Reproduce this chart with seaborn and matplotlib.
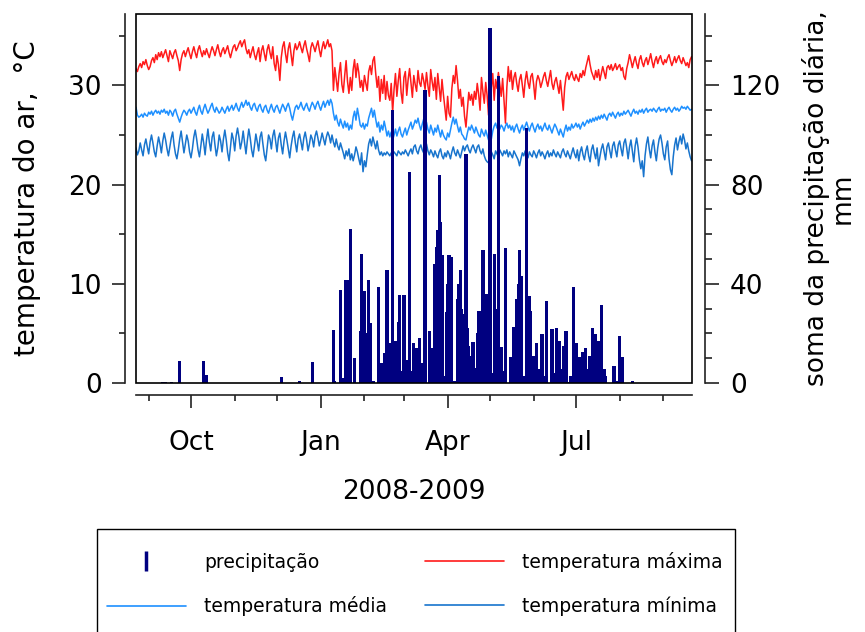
import numpy as np
import pandas as pd
import matplotlib
matplotlib.use("Agg")
import matplotlib.pyplot as plt
import matplotlib.dates as mdates
from matplotlib.lines import Line2D
from matplotlib.patches import Rectangle
import seaborn as sns

# daily series start on 2008-08-23
start_date = "2008-08-23"

# temperatura máxima (°C), one value per day
t_max = [
    31.7, 31.4, 31.9, 32.2, 31.8, 32.4, 32.1, 32.6, 32.0, 31.6, 31.9, 32.5, 32.8, 32.3, 33.1, 32.6, 33.3, 32.9, 33.4, 32.8,
    33.2, 33.6, 33.0, 32.4, 33.5, 33.1, 32.7, 33.3, 33.6, 33.0, 32.5, 31.5, 32.6, 33.2, 33.5, 32.9, 33.4, 33.8, 33.2, 32.7,
    33.4, 33.9, 33.3, 32.8, 33.6, 34.0, 33.4, 32.9, 33.5, 33.1, 33.7, 33.2, 32.8, 33.4, 33.9, 33.5, 33.0, 33.6, 34.1, 33.4,
    32.9, 33.5, 33.8, 33.2, 33.6, 34.0, 33.3, 32.8, 33.4, 33.9, 34.1, 33.5, 33.8, 34.2, 34.5, 33.9, 34.3, 34.6, 33.7, 33.2,
    33.6, 32.8, 33.4, 33.9, 33.1, 32.6, 33.3, 33.8, 32.4, 33.5, 34.0, 33.2, 32.5, 33.6, 34.1, 33.3, 32.7, 33.9, 32.2, 31.5,
    33.0, 32.1, 30.5, 32.8, 33.9, 34.4, 33.2, 32.3, 33.7, 34.3, 33.1, 32.0, 33.5, 34.2, 33.6, 33.9, 34.4, 33.8, 33.3, 34.0,
    34.5, 33.7, 33.1, 32.4, 33.8, 34.3, 33.9, 33.4, 34.0, 34.5, 33.6, 32.9, 33.8, 34.4, 33.7, 34.1, 34.6, 33.9, 34.2, 33.5,
    29.5, 31.8, 30.6, 29.4, 31.2, 32.3, 30.1, 29.3, 31.0, 32.5, 30.4, 29.2, 30.8, 29.5, 31.6, 32.6, 30.8, 32.2, 31.3, 29.8,
    30.5, 29.4, 31.0, 30.2, 29.5, 31.4, 32.0, 31.1, 32.5, 32.9, 31.2, 29.8, 30.9, 28.4, 30.6, 29.2, 31.0, 28.6, 30.4, 29.0,
    28.5, 30.2, 27.3, 29.6, 31.2, 28.9, 30.5, 31.7, 29.3, 28.2, 30.8, 31.4, 29.0, 30.6, 31.7, 30.2, 28.8, 31.0, 30.1, 29.4,
    31.5, 30.3, 29.9, 31.2, 30.5, 29.6, 31.3, 30.0, 28.9, 31.6, 30.4, 29.5, 30.8, 28.6, 31.2, 29.8, 28.4, 30.6, 29.1, 27.8,
    26.5, 28.9, 27.2, 26.8, 29.7, 31.0, 30.2, 32.0, 30.5, 28.7, 29.6, 27.9, 28.8, 26.9, 25.8, 27.6, 29.3, 28.5, 29.1, 28.0,
    29.4, 28.6, 30.2, 29.1, 27.5, 30.8, 29.4, 28.2, 30.3, 29.0, 27.0, 31.9, 29.8, 31.2, 28.5, 30.6, 29.7, 31.3, 30.1, 28.9,
    30.7, 28.4, 26.2, 29.8, 31.9, 30.4, 31.5, 29.6, 30.8, 31.3, 30.2, 29.4, 30.6, 31.1, 30.0, 28.8, 30.5, 31.4, 30.3, 29.7,
    30.9, 31.2, 30.1, 28.6, 30.4, 31.0, 30.6, 29.8, 30.3, 30.9, 31.3, 30.5, 29.9, 30.7, 31.5, 30.2, 29.6, 30.4, 30.8, 30.0,
    29.2, 30.5, 29.0, 27.5, 29.8, 30.9, 31.3, 30.6, 31.0, 31.4, 30.8, 30.5, 31.1, 30.7, 30.4, 31.2, 30.8, 31.5, 31.0, 31.8,
    32.4, 33.0, 32.1, 31.4, 31.0, 30.6, 31.5, 30.8, 31.6, 30.5, 31.2, 31.9, 31.3, 30.7, 31.8, 32.0, 31.6, 32.1, 31.5, 31.8,
    32.2, 31.6, 31.9, 32.1, 31.5, 31.8, 30.9, 30.6, 31.7, 32.3, 33.1, 32.5, 31.8, 32.4, 32.9, 32.2, 31.7, 32.6, 33.0, 32.3,
    31.9, 32.5, 32.8, 32.1, 32.6, 33.2, 32.4, 31.8, 32.5, 32.9, 32.2, 32.7, 33.0, 32.4, 32.1, 32.6, 32.3, 32.8, 33.1, 32.5,
    32.0, 32.4, 32.9, 32.3, 32.7, 33.0, 32.5, 32.2, 32.8, 32.4, 32.0, 32.3, 31.8, 32.6, 32.9,
]

# temperatura média (°C)
t_mean = [
    27.8, 27.0, 26.8, 26.9, 27.1, 26.8, 27.2, 27.0, 26.9, 27.3, 27.1, 27.4, 27.0, 27.3, 27.5, 27.2, 27.4, 27.1, 27.5, 27.3,
    27.6, 27.2, 27.4, 27.0, 27.5, 27.3, 26.9, 27.4, 27.6, 27.1, 26.7, 26.3, 26.8, 27.2, 27.5, 27.3, 27.0, 27.4, 27.6, 27.2,
    27.5, 27.8, 27.3, 27.0, 27.6, 28.0, 27.4, 27.1, 27.7, 28.1, 27.6, 27.2, 27.5, 27.9, 28.2, 27.6, 27.3, 27.8, 27.5, 27.2,
    27.4, 27.8, 27.5, 27.2, 27.6, 27.9, 27.4, 27.7, 28.0, 27.5, 27.8, 28.2, 27.7, 27.4, 27.9, 28.3, 27.8, 28.1, 28.5, 28.0,
    28.3, 27.8, 27.5, 28.0, 28.2, 27.7, 27.4, 27.9, 28.1, 27.6, 27.3, 27.8, 28.0, 27.5, 27.2, 27.7, 28.1, 27.6, 27.3, 27.8,
    28.0, 27.6, 27.2, 27.7, 28.1, 27.8, 27.4, 27.9, 28.2, 27.7, 27.0, 26.5, 27.2, 27.8, 28.0, 27.6, 27.9, 28.3, 27.8, 27.5,
    27.9, 28.2, 27.7, 27.4, 27.9, 28.3, 28.0, 27.6, 28.1, 28.4, 27.9, 27.5, 28.0, 28.4, 27.8, 28.2, 28.5, 28.0, 28.6, 28.2,
    27.2, 26.5, 27.0, 26.3, 25.9, 26.6, 26.1, 25.7, 26.4, 25.8, 26.2, 25.5, 26.0, 25.6, 26.8, 27.4, 26.5, 27.7, 26.9, 26.0,
    25.8, 26.2, 25.6, 26.1, 25.9, 26.7, 27.2, 27.7, 26.8, 27.5, 26.6, 25.8, 26.3, 25.3, 26.0, 25.5, 26.4, 25.7, 24.9, 25.4,
    24.8, 25.3, 24.5, 25.0, 25.6, 24.9, 25.4, 25.8, 25.1, 24.8, 25.3, 25.7, 25.0, 25.5, 25.9, 26.3, 25.6, 26.0, 26.5, 26.2,
    26.7, 26.0, 25.5, 26.1, 26.6, 25.8, 26.3, 25.6, 25.2, 26.0, 25.5, 25.0, 25.7, 25.3, 26.0, 25.4, 24.8, 25.5, 25.0, 24.7,
    24.5, 25.2, 24.8, 25.5, 26.2, 26.8, 26.1, 26.6, 25.9, 25.3, 25.8, 25.1, 24.9, 24.6, 24.5, 25.2, 25.8, 25.5, 26.0, 25.6,
    25.2, 25.8, 25.4, 25.0, 24.8, 25.6, 25.2, 24.9, 25.5, 25.0, 24.5, 25.3, 24.6, 25.4, 25.9, 26.2, 25.7, 26.1, 25.6, 26.0,
    25.8, 25.4, 25.9, 26.2, 25.7, 26.0, 25.5, 25.9, 25.3, 25.8, 26.1, 25.6, 25.2, 25.7, 26.0, 25.5, 25.9, 26.3, 25.8, 25.4,
    25.9, 26.2, 25.7, 25.3, 25.8, 26.1, 25.6, 25.9, 25.4, 25.8, 26.2, 25.7, 25.5, 26.0, 25.6, 25.2, 25.7, 26.1, 25.8, 25.4,
    25.0, 25.6, 25.2, 24.8, 25.5, 26.0, 25.4, 25.8, 25.5, 26.1, 25.7, 25.9, 26.2, 25.8, 26.1, 25.6, 26.0, 26.3, 25.9, 26.2,
    26.5, 26.2, 26.6, 26.3, 26.7, 26.4, 26.8, 26.5, 26.9, 26.6, 27.0, 26.7, 27.1, 26.8, 26.5, 27.0, 27.2, 26.9, 27.3, 27.0,
    26.7, 27.1, 27.3, 26.9, 27.2, 27.0, 27.4, 27.1, 27.3, 27.5, 27.2, 26.9, 27.3, 27.6, 27.2, 27.4, 27.1, 27.5, 27.3, 27.6,
    27.2, 27.5, 27.7, 27.3, 27.5, 27.6, 27.4, 27.7, 27.5, 27.3, 27.6, 27.8, 27.4, 27.6, 27.5, 27.7, 27.3, 27.6, 27.8, 27.5,
    27.3, 27.6, 27.8, 27.5, 27.7, 27.4, 27.6, 27.9, 27.7, 27.8, 27.6, 27.9, 27.7, 27.5, 27.6,
]

# temperatura mínima (°C)
t_min = [
    23.7, 23.0, 23.4, 24.2, 23.5, 22.9, 24.0, 24.6, 23.8, 23.1, 24.3, 25.0, 24.2, 23.3, 22.8, 23.9, 24.8, 24.1, 23.2, 24.4,
    25.2, 24.5, 23.6, 22.9, 23.8, 24.7, 25.3, 24.0, 23.1, 22.6, 23.5, 24.6, 25.4, 24.3, 23.2, 24.1, 25.0, 24.4, 23.3, 22.7,
    23.6, 24.8, 25.5, 24.6, 23.5, 22.8, 23.9, 25.1, 24.2, 23.0, 24.5, 25.6, 24.3, 23.4, 24.8, 25.3, 24.0, 22.9, 23.7, 25.0,
    24.4, 23.3, 24.6, 25.5, 24.5, 23.2, 22.4, 23.8, 25.2, 24.6, 23.4, 24.9, 25.7, 24.8, 23.6, 24.3, 25.4, 24.2, 23.1, 24.5,
    25.6, 24.7, 23.5, 22.8, 23.9, 25.1, 24.3, 23.4, 24.8, 25.3, 24.1, 23.0, 22.4, 23.7, 25.0, 24.6, 23.6, 24.9, 25.5, 24.4,
    23.3, 24.7, 25.2, 24.0, 23.1, 24.4, 25.3, 24.5, 23.6, 22.7, 23.9, 24.8, 25.4, 24.2, 23.3, 24.6, 25.1, 24.3, 23.5, 24.7,
    25.3, 24.5, 23.4, 24.1, 25.0, 24.6, 23.8, 24.9, 25.4, 24.7, 23.9, 24.5, 25.2, 24.6, 24.0, 24.8, 25.3, 24.9, 24.2, 25.0,
    24.3, 23.8, 24.6, 23.9, 23.5, 24.2, 23.7, 23.2, 22.6, 23.4, 22.9, 23.6, 22.5, 23.1, 22.4, 23.0, 23.8, 23.3, 22.6, 22.0,
    23.2, 21.3, 22.4, 21.8, 23.0, 24.1, 24.6, 23.9, 24.8, 24.2, 23.6, 24.4, 23.5, 23.0, 23.3, 22.9, 23.2, 23.0, 23.3, 23.1,
    22.9, 23.2, 23.0, 23.3, 23.1, 22.9, 23.4, 23.2, 23.0, 23.3, 23.1, 23.5, 23.2, 22.9, 23.3, 23.6, 23.1, 23.8, 24.0, 23.4,
    23.1, 23.7, 24.0, 23.5, 23.2, 23.8, 24.1, 23.4, 23.0, 23.5, 23.2, 22.8, 23.4, 23.0, 22.7, 23.3, 23.6, 22.9, 22.6, 23.2,
    22.8, 23.4, 23.1, 22.6, 23.3, 23.8, 23.2, 22.9, 23.5, 23.1, 22.7, 23.3, 23.9, 23.4, 23.8, 24.0, 23.5, 23.2, 23.7, 24.0,
    23.6, 23.2, 23.8, 24.0, 23.4, 23.1, 23.6, 22.9, 22.5, 22.3, 22.2, 22.8, 23.3, 23.0, 22.6, 23.4, 23.1, 22.8, 23.5, 23.2,
    22.9, 23.4, 23.1, 23.5, 22.8, 23.3, 23.0, 22.7, 23.4, 23.1, 22.8, 22.5, 21.9, 22.6, 23.2, 22.9, 23.4, 23.1, 22.7, 23.3,
    23.0, 22.8, 23.4, 23.1, 22.7, 23.2, 23.5, 22.9, 23.3, 23.0, 22.6, 23.1, 23.4, 22.8, 23.2, 22.9, 23.5, 23.1, 22.8, 23.3,
    23.0, 22.7, 23.3, 23.6, 23.1, 22.8, 23.4, 23.0, 22.6, 23.2, 23.7, 23.1, 22.7, 23.5, 22.4, 23.3, 23.8, 23.0, 22.5, 23.4,
    23.9, 22.9, 22.3, 23.5, 24.0, 23.2, 22.6, 23.7, 21.9, 22.8, 23.6, 24.1, 23.3, 22.5, 23.8, 24.2, 23.4, 22.7, 23.9, 24.3,
    23.5, 22.8, 24.0, 24.4, 23.6, 22.9, 24.2, 24.6, 23.7, 22.6, 23.8, 24.5, 23.4, 22.3, 23.9, 24.7, 23.8, 22.5, 21.6, 22.4,
    20.8, 22.9, 24.1, 24.8, 23.6, 22.7, 23.9, 24.5, 23.3, 22.4, 23.7, 24.6, 25.0, 24.2, 23.1, 22.5, 23.8, 24.4, 22.6, 21.5,
    21.0, 22.8, 24.0, 24.7, 23.5, 24.3, 24.9, 24.1, 25.1, 24.5, 23.6, 24.2, 23.4, 22.8, 22.4,
]

# precipitação (mm): days with rain, counted from start_date, and the amount
rain_day = [
    19, 21, 25, 31, 48, 50, 103, 116, 125,
    140, 141, 145, 147, 149, 150, 152, 155, 159, 160, 162, 163, 165, 166, 168,
    172, 173, 174, 176, 178, 179, 180, 182, 184, 186, 187, 189, 190, 192, 194,
    195, 197, 199, 201, 203, 205, 208, 210, 212, 213, 214, 215, 216, 217, 219,
    220, 221, 222, 223, 224, 226, 228, 229, 230, 231, 232, 234, 235, 236, 237,
    239, 241, 242, 243, 244, 246, 248, 249, 251, 253, 254, 255, 257, 259, 261,
    262, 266, 268, 270, 271, 272, 273, 275, 277, 279, 280, 282, 284, 286, 288,
    289, 291, 295, 296, 298, 300, 301, 303, 305, 306, 308, 310, 312, 313, 314,
    315, 317, 319, 321, 322, 324, 326, 328, 330, 332, 333, 339, 341, 343, 345, 352,
]
rain_mm = [
    0.3, 0.3, 0.6, 9.0, 9.0, 3.2, 2.5, 0.7, 8.3,
    21.3, 1.0, 37.5, 2.0, 41.5, 41.5, 62.3, 10.0, 21.0, 52.2, 37.0, 20.0, 41.5, 24.0, 1.0,
    38.8, 6.0, 8.0, 12.0, 45.5, 15.0, 16.0, 110.0, 17.0, 24.7, 35.4, 5.0, 35.4, 9.3, 85.0,
    4.7, 16.0, 14.0, 18.0, 7.9, 118.0, 21.0, 14.0, 48.0, 55.0, 61.6, 83.8, 65.0, 51.6, 3.0,
    28.7, 40.0, 51.6, 51.0, 51.0, 1.0, 34.0, 40.0, 45.5, 30.0, 28.0, 92.5, 22.0, 15.0, 11.0,
    16.5, 6.0, 20.0, 29.0, 29.0, 53.6, 6.0, 36.0, 143.0, 4.0, 52.0, 30.0, 124.0, 14.5, 5.0,
    54.5, 10.5, 22.5, 34.0, 40.0, 53.6, 43.0, 3.0, 103.0, 35.0, 29.0, 11.0, 16.0, 5.5, 19.8,
    3.0, 33.0, 21.6, 4.0, 22.0, 17.0, 5.5, 15.0, 21.0, 0.5, 3.0, 38.8, 16.0, 10.0, 10.5,
    10.5, 12.5, 14.0, 5.5, 11.0, 22.0, 19.7, 17.0, 31.4, 5.5, 3.0, 7.0, 1.0, 19.0, 10.5, 1.0,
]

month_ticks = ["2008-10-01", "2009-01-01", "2009-04-01", "2009-07-01"]
month_labels = ["Oct", "Jan", "Apr", "Jul"]

dates = pd.date_range(start_date, periods=len(t_max), freq="D")
rain_dates = pd.Timestamp(start_date) + pd.to_timedelta(rain_day, unit="D")
df = pd.DataFrame({"data": dates, "tmax": t_max, "tmed": t_mean, "tmin": t_min})

col_max = "#FF1A1A"
col_med = "#1E90FF"
col_min = "#1874CD"
col_rain = "#000080"
ink = "black"

sns.set_style("white")
plt.rcParams["font.family"] = ["DejaVu Sans"]
plt.rcParams["text.color"] = ink
plt.rcParams["xtick.labelcolor"] = ink
plt.rcParams["ytick.labelcolor"] = ink

fig = plt.figure(figsize=(8.65, 6.32), dpi=100)
W, H = 865, 632
ax = fig.add_axes([136 / W, 1 - 383 / H, (692 - 136) / W, (383 - 14) / H])
ax.patch.set_alpha(0)

# temperature lines
sns.lineplot(data=df, x="data", y="tmax", color=col_max, lw=1.1, ax=ax)
sns.lineplot(data=df, x="data", y="tmed", color=col_med, lw=1.1, ax=ax)
sns.lineplot(data=df, x="data", y="tmin", color=col_min, lw=1.1, ax=ax)

# precipitation on the right axis
ax2 = ax.twinx()
ax2.bar(rain_dates, rain_mm, width=2.3, color=col_rain, linewidth=0)

x0 = pd.Timestamp(start_date)
ax.set_xlim(x0, x0 + pd.Timedelta(days=394.3))
ax.set_ylim(0, 37.2)
ax2.set_ylim(0, 148.8)

ax.set_yticks([0, 10, 20, 30])
ax.set_yticks([5, 15, 25, 35], minor=True)
ax2.set_yticks([0, 40, 80, 120])
ax2.set_yticks([10, 20, 30, 50, 60, 70, 90, 100, 110, 130, 140], minor=True)
ax.set_xticks(pd.to_datetime(month_ticks))
ax.set_xticklabels(month_labels)
ax.xaxis.set_minor_locator(mdates.MonthLocator())

# R-like detached axes and a box around the plot region
for s in ["top", "right"]:
    ax.spines[s].set_visible(False)
for s in ["top", "left", "bottom"]:
    ax2.spines[s].set_visible(False)
ax.spines["left"].set_position(("outward", 8))
ax.spines["bottom"].set_position(("outward", 8.6))
ax2.spines["right"].set_position(("outward", 9.4))
for sp in [ax.spines["left"], ax.spines["bottom"], ax2.spines["right"]]:
    sp.set_linewidth(1.2)
    sp.set_color("#222222")
ax2.add_patch(Rectangle((0, 0), 1, 1, transform=ax.transAxes, fill=False,
                        ec="black", lw=1.2, clip_on=False, zorder=5))

ax.tick_params(axis="both", which="major", length=9.5, width=1.2, labelsize=19,
               direction="out", color="#222222", left=True, bottom=True)
ax.tick_params(axis="both", which="minor", length=4.5, width=1.2,
               direction="out", color="#222222", left=True, bottom=True)
ax.tick_params(axis="y", pad=7)
ax.tick_params(axis="x", pad=16)
ax2.tick_params(axis="y", which="major", length=10, width=1.2, labelsize=19,
                pad=8, direction="out", color="#222222", right=True)
ax2.tick_params(axis="y", which="minor", length=5, width=1.2,
                direction="out", color="#222222", right=True)

ax.set_xlabel("")
ax.set_ylabel("")
ax2.set_ylabel("")
fig.text(27 / W, 1 - 198 / H, "temperatura do ar,  °C", rotation=90,
         ha="center", va="center", fontsize=20)
fig.text(829 / W, 1 - 198 / H, "soma da precipitação diária,\nmm", rotation=90,
         ha="center", va="center", multialignment="center", fontsize=19,
         linespacing=1.0)
fig.text(414 / W, 1 - 492 / H, "2008-2009", ha="center", va="center", fontsize=19)

# legend in an open-bottom box
fig.patches.append(Rectangle((97 / W, -0.05), (735 - 97) / W, 0.05 + (632 - 529) / H,
                             transform=fig.transFigure, fill=False, ec="black", lw=1.0))
handles = [
    Line2D([0], [0], color=col_rain, marker="|", linestyle="None", markersize=15, mew=2.5),
    Line2D([0], [0], color=col_med, lw=1.2),
    Line2D([0], [0], color=col_max, lw=1.2),
    Line2D([0], [0], color=col_min, lw=1.2),
]
labels = ["precipitação", "temperatura média", "temperatura máxima", "temperatura mínima"]
fig.legend(handles, labels, loc="upper left", bbox_to_anchor=(107 / W, 1 - 552 / H),
           ncol=2, frameon=False, fontsize=13.5, handlelength=4.2, handletextpad=1.0,
           columnspacing=2.0, labelspacing=1.3, borderpad=0, borderaxespad=0)

fig.savefig("out.png", dpi=100)
